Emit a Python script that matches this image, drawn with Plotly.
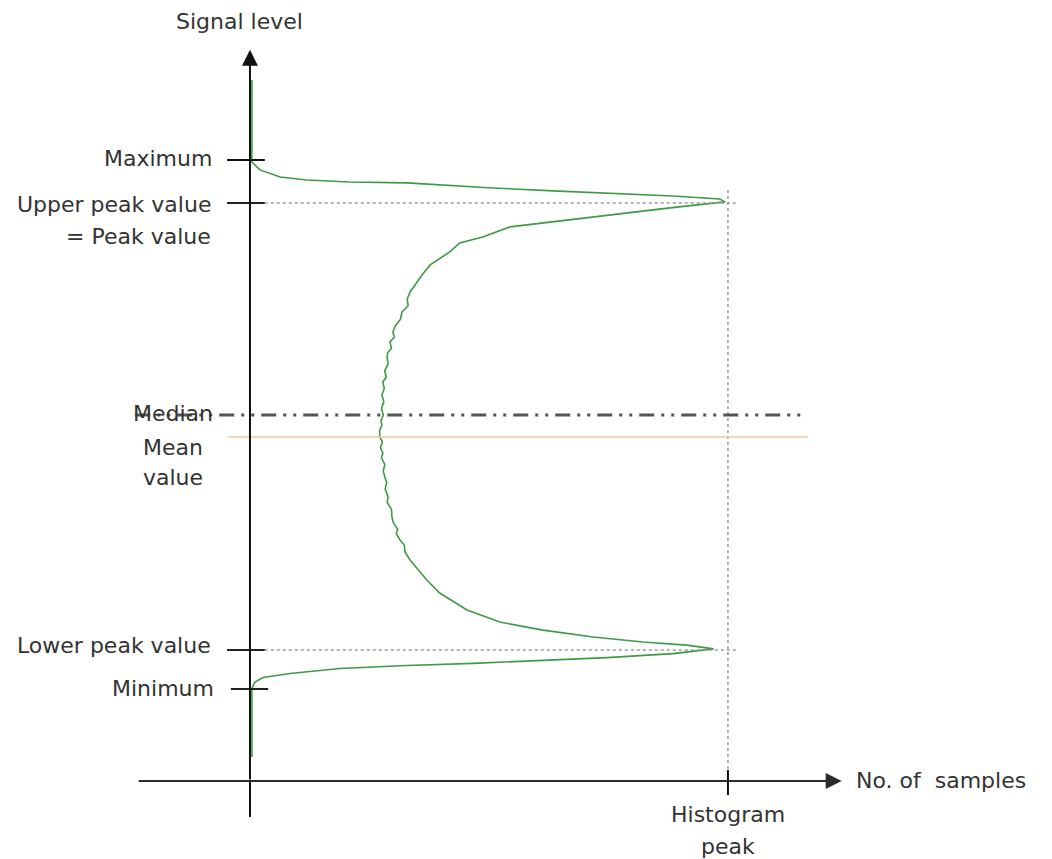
import plotly.graph_objects as go

# ---- data (count as % of histogram peak, signal level in arbitrary units) ----
signal_level = [155.0, 118.3, 114.8, 111.6, 110.3, 109.4, 109.0, 107.6, 106.7, 105.4,
                104.5, 103.1, 101.8, 100.5, 97.8, 94.2, 91.5, 89.3, 84.8, 82.1,
                78.1, 72.3, 67.8, 60.2, 57, 54, 51.2, 48, 45, 42.3,
                40, 37.8, 35, 33, 30.6, 28, 25, 22, 19.9, 17,
                14.1, 11, 8, 5.1, 2.5, 0.7, -2, -4.7, -7, -9.5,
                -11.9, -14, -17, -20, -22.6, -25, -28, -31.5, -34, -37,
                -40.5, -43, -46, -48, -50.8, -53, -56, -59.7, -68.7, -74.5,
                -82.1, -87.5, -91.1, -94.2, -96.4, -97.8, -99.5, -101.6, -103.4, -104.7,
                -106.0, -106.9, -108.3, -110.5, -112.3, -114.5, -117.2, -147.9]
sample_count = [0.4, 0.4, 2.1, 6.3, 11.9, 20.9, 32.8, 42.5, 50.8, 63.4,
                74.7, 88.5, 98.3, 99.4, 87.9, 73.8, 63.4, 54.4, 48.7, 43.9,
                41.8, 37.7, 36.0, 33.5, 32.9, 33.1, 31.8, 31.5, 30.4, 29.9,
                30.2, 29.3, 29.6, 28.8, 28.7, 28.9, 28.2, 28.5, 27.8, 28.1,
                27.6, 28.0, 27.5, 27.9, 27.4, 27.6, 27.1, 27.2, 27.7, 27.3,
                27.8, 27.5, 28.2, 27.9, 28.2, 28.6, 28.3, 28.9, 28.7, 29.6,
                29.7, 30.0, 30.9, 30.6, 31.4, 32.3, 32.4, 33.5, 37.0, 39.7,
                45.4, 52.3, 61.3, 71.8, 82.2, 91.4, 97.0, 88.5, 74.7, 60.7,
                46.7, 32.8, 18.8, 8.4, 2.7, 1.0, 0.4, 0.4]

maximum = 119.2
upper_peak = 100.0
median = 5.1
mean_value = -4.7
lower_peak = -100.0
minimum = -117.4
hist_peak = 100.0

# ---- layout constants ----
X_RANGE = [-52.3, 167.8]
Y_RANGE = [-193.5, 190.8]
AXIS_Y = -158.6       # level where the count axis is drawn
TEXT = "#333333"
FONT = "DejaVu Sans"
FS = 22

fig = go.Figure()

fig.add_trace(go.Scatter(x=sample_count, y=signal_level, mode="lines",
                         line=dict(color="#3f9a45", width=1.6), hoverinfo="skip"))

shapes = []
def seg(x0, y0, x1, y1, color, width, dash="solid"):
    shapes.append(dict(type="line", xref="x", yref="y", x0=x0, y0=y0, x1=x1, y1=y1,
                       line=dict(color=color, width=width, dash=dash), layer="above"))

# dotted guide lines
seg(3.1, upper_peak, 101.7, upper_peak, "#9a9a9a", 1.5, "dot")
seg(3.1, lower_peak, 102.0, lower_peak, "#9a9a9a", 1.5, "dot")
seg(hist_peak, 105.8, hist_peak, AXIS_Y + 5, "#9a9a9a", 1.5, "dot")
# median and mean
seg(-24, median, 116, median, "#555555", 3, "15px,7px,3px,7px,3px,7px")
seg(-4.6, mean_value, 116.7, mean_value, "#f5c6a0", 1.5)
# ticks on the level axis
seg(-4.8, maximum, 3.1, maximum, "#111111", 2)
seg(-4.8, upper_peak, 3.1, upper_peak, "#222222", 2)
seg(-4.8, lower_peak, 3.1, lower_peak, "#222222", 2)
seg(-4.0, minimum, 3.8, minimum, "#222222", 2)
# tick at histogram peak
seg(hist_peak, AXIS_Y + 4.9, hist_peak, AXIS_Y - 6.3, "#111111", 2)
# lower extension of vertical axis
seg(0, AXIS_Y, 0, -174.7, "#111111", 2)

annotations = []
# axes with arrow heads
annotations.append(dict(x=0, y=168.5, ax=0, ay=AXIS_Y, xref="x", yref="y", axref="x", ayref="y",
                        text="", showarrow=True, arrowhead=2, arrowsize=1.6, arrowwidth=2,
                        arrowcolor="#111111"))
annotations.append(dict(x=123.8, y=AXIS_Y, ax=-23.6, ay=AXIS_Y, xref="x", yref="y", axref="x", ayref="y",
                        text="", showarrow=True, arrowhead=2, arrowsize=1.6, arrowwidth=2,
                        arrowcolor="#2a2a2a"))

def label(x, y, text, xanchor="center"):
    annotations.append(dict(x=x, y=y, xref="x", yref="y", text=text, showarrow=False,
                            xanchor=xanchor, yanchor="middle", align=xanchor if xanchor != "center" else "center",
                            font=dict(family=FONT, size=FS, color=TEXT)))

label(-2.1, 181.0, "Signal level")
label(-7.6, 120.1, "Maximum", "right")
label(-7.8, 99.1, "Upper peak value", "right")
label(-7.8, 84.8, "= Peak value", "right")
label(-16.1, 5.6, "Median")
label(-16.1, -9.2, "Mean")
label(-16.1, -22.6, "value")
label(-7.8, -97.8, "Lower peak value", "right")
label(-7.2, -117.0, "Minimum", "right")
label(126.4, -158.2, "No. of  samples", "left")
label(hist_peak, -173.8, "Histogram")
label(hist_peak, -188.1, "peak")

fig.update_layout(
    width=1052, height=859,
    margin=dict(l=0, r=0, t=0, b=0),
    paper_bgcolor="white", plot_bgcolor="white",
    showlegend=False,
    xaxis=dict(range=X_RANGE, visible=False, fixedrange=True),
    yaxis=dict(range=Y_RANGE, visible=False, fixedrange=True),
    shapes=shapes, annotations=annotations,
)

fig.write_html("out.html", config={"displayModeBar": False},
               post_script="document.body.style.margin='0';")
